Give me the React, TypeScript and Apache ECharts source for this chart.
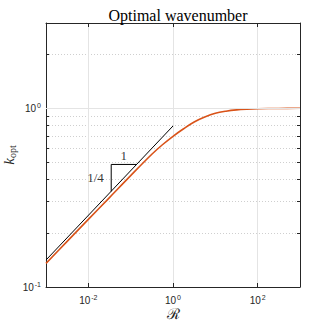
import React, { useEffect, useRef } from 'react';
import * as echarts from 'echarts';

const rValues = [0.001, 0.00316, 0.01, 0.0316, 0.1, 0.316, 0.562, 1, 1.78, 3.16, 5.62, 10, 17.8, 31.6, 56.2, 100, 316, 1000];
const kOptValues = [0.1355, 0.180, 0.239, 0.3165, 0.42, 0.553, 0.625, 0.697, 0.768, 0.838, 0.893, 0.937, 0.963, 0.98, 0.989, 0.994, 0.998, 1.0];
const asymptoteR = [0.001, 1];
const asymptoteK = [0.1415, 0.796];
const triangleR = [0.0347, 0.0347, 0.137];
const triangleK = [0.343, 0.485, 0.485];
const runLabelPos = [0.0684, 0.544];
const riseLabelPos = [0.0148, 0.408];
const xTickValues = [0.01, 1, 100];
const yTickValues = [0.1, 0.2, 0.3, 0.4, 0.5, 0.6, 0.7, 0.8, 0.9, 1, 2, 3];
const yLabelValues = [0.1, 1];

const AX = '#262626';
const tickRich = {
  b: { fontFamily: 'Liberation Sans', fontSize: 10, color: AX, lineHeight: 12, verticalAlign: 'middle' },
  e: { fontFamily: 'Liberation Sans', fontSize: 7, color: AX, lineHeight: 7, verticalAlign: 'top', padding: [0, 0, 0, 1] },
};
const expFmt = (v: number) => `{b|10}{e|${Math.round(Math.log10(v))}}`;

export default function App() {
  const ref = useRef<HTMLDivElement>(null);
  useEffect(() => {
    const chart = echarts.init(ref.current!, null, { renderer: 'svg' });
    const zip = (a: number[], b: number[]) => a.map((x, i) => [x, b[i]]);
    chart.setOption({
      animation: false,
      title: {
        text: 'Optimal wavenumber',
        left: 173,
        textAlign: 'center',
        top: 2,
        textStyle: { fontFamily: 'Liberation Serif', fontSize: 16, fontWeight: 'normal', color: '#000' },
      },
      grid: { left: 46, right: 32, top: 23, bottom: 39, containLabel: false, outerBoundsMode: 'none' },
      xAxis: [
        {
          type: 'log', logBase: 10, min: 0.001, max: 1000, position: 'bottom',
          axisLine: { show: true, onZero: false, lineStyle: { color: AX, width: 1 } },
          axisTick: { show: true, inside: true, length: 4, customValues: xTickValues, lineStyle: { color: AX } },
          axisLabel: { customValues: xTickValues, formatter: expFmt, rich: tickRich, margin: 7 },
          splitLine: { show: true, lineStyle: { color: '#e4e4e4', width: 1 } },
          name: '\u211B', nameLocation: 'middle', nameGap: 19, nameMoveOverlap: false,
          nameTextStyle: { fontFamily: 'DejaVu Serif', fontSize: 15, color: AX },
        },
        {
          type: 'log', logBase: 10, min: 0.001, max: 1000, position: 'top',
          axisLine: { show: true, onZero: false, lineStyle: { color: AX, width: 1 } },
          axisTick: { show: true, inside: true, length: 4, customValues: xTickValues, lineStyle: { color: AX } },
          axisLabel: { show: false },
          splitLine: { show: false },
        },
      ],
      yAxis: [
        {
          type: 'log', logBase: 10, min: 0.1, max: 3, position: 'left',
          axisLine: { show: true, onZero: false, lineStyle: { color: AX, width: 1 } },
          axisTick: { show: true, inside: true, length: 3, customValues: yTickValues, lineStyle: { color: AX } },
          axisLabel: { customValues: yLabelValues, formatter: expFmt, rich: tickRich, margin: 5 },
          splitLine: { show: true, lineStyle: { color: '#cfcfcf', width: 1, type: [1, 2] } },
          name: '{k|k}{s|opt}', nameLocation: 'middle', nameGap: 29, nameRotate: 90, nameMoveOverlap: false,
          nameTextStyle: {
            rich: {
              k: { fontFamily: 'Liberation Serif', fontStyle: 'italic', fontSize: 15, color: AX, lineHeight: 16, verticalAlign: 'middle' },
              s: { fontFamily: 'Liberation Serif', fontSize: 10, color: AX, lineHeight: 10, verticalAlign: 'bottom' },
            },
          },
        },
        {
          type: 'log', logBase: 10, min: 0.1, max: 3, position: 'right',
          axisLine: { show: true, onZero: false, lineStyle: { color: AX, width: 1 } },
          axisTick: { show: true, inside: true, length: 3, customValues: yTickValues, lineStyle: { color: AX } },
          axisLabel: { show: false },
          splitLine: { show: false },
        },
      ],
      series: [
        {
          type: 'line', xAxisIndex: 0, yAxisIndex: 0,
          data: zip(asymptoteR, asymptoteK),
          showSymbol: false, lineStyle: { color: '#000', width: 1 },
          markLine: {
            silent: true, symbol: 'none', label: { show: false },
            lineStyle: { color: '#e4e4e4', width: 1, type: 'solid' },
            data: [{ yAxis: 1 }],
          },
          z: 3,
        },
        {
          type: 'line', xAxisIndex: 0, yAxisIndex: 0,
          data: zip(rValues, kOptValues),
          smooth: 0.35, showSymbol: false, lineStyle: { color: '#D95319', width: 1.6 },
          z: 4,
        },
        {
          type: 'line', xAxisIndex: 0, yAxisIndex: 0,
          data: zip(triangleR, triangleK),
          showSymbol: false, lineStyle: { color: '#000', width: 1 },
          z: 3,
        },
        {
          type: 'scatter', xAxisIndex: 0, yAxisIndex: 0, symbolSize: 0,
          data: [runLabelPos],
          label: { show: true, position: 'inside', formatter: '1', fontFamily: 'Liberation Serif', fontSize: 13, color: '#000' },
        },
        {
          type: 'scatter', xAxisIndex: 0, yAxisIndex: 0, symbolSize: 0,
          data: [riseLabelPos],
          label: { show: true, position: 'inside', formatter: '1/4', fontFamily: 'Liberation Serif', fontSize: 13, color: '#000' },
        },
      ],
    });
    return () => chart.dispose();
  }, []);
  return <div ref={ref} style={{ position: 'fixed', left: 0, top: 0, width: 332, height: 326, background: '#fff' }} />;
}
